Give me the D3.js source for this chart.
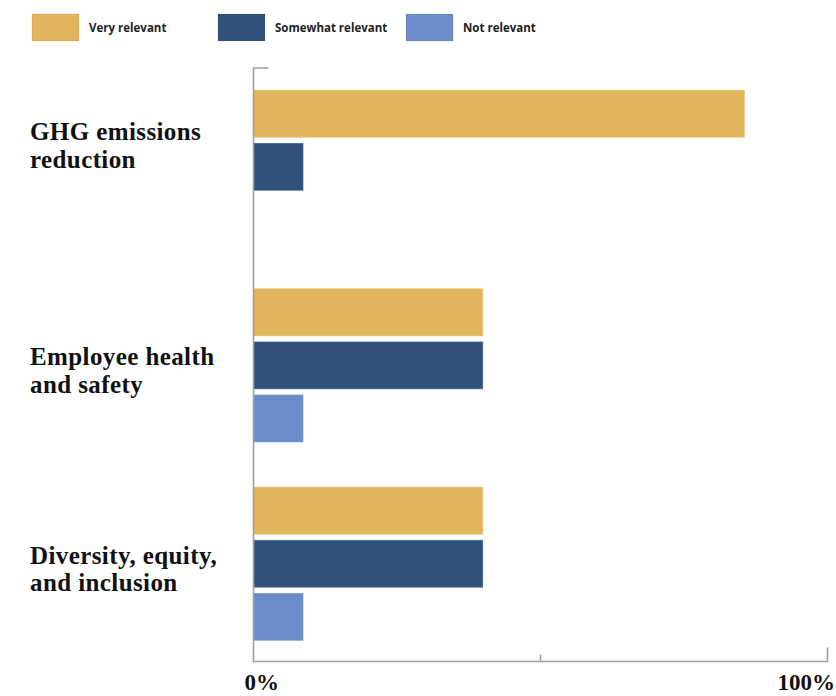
<!DOCTYPE html>
<html>
<head>
<meta charset="utf-8">
<script src="https://cdn.jsdelivr.net/npm/d3@7"></script>
<style>
  html, body { margin: 0; padding: 0; background: #fff; }
  svg { display: block; }
</style>
</head>
<body>
<svg id="chart" width="836" height="696"></svg>
<script>
// Topics and their label lines
const categories = ["GHG emissions reduction", "Employee health and safety", "Diversity, equity, and inclusion"];
const categoryLines = [
  ["GHG emissions", "reduction"],
  ["Employee health", "and safety"],
  ["Diversity, equity,", "and inclusion"]
];
const seriesNames = ["Very relevant", "Somewhat relevant", "Not relevant"];
const seriesColors = ["#E1B55B", "#31537B", "#6A8CC8"];

// Share of respondents (%) per topic
const veryRelevant = [85.6, 40, 40];
const somewhatRelevant = [8.7, 40, 40];
const notRelevant = [0, 8.7, 8.7];

const tickValues = [0, 50, 100];
const tickLabels = ["0%", "", "100%"];

const series = [veryRelevant, somewhatRelevant, notRelevant];

const svg = d3.select("#chart");

const x = d3.scaleLinear().domain([0, 100]).range([253.5, 827.5]);
const y0 = d3.scaleBand().domain(categories).range([68, 661])
  .paddingInner(0.224).paddingOuter(0.106).align(0.52);
const y1 = d3.scaleBand().domain(seriesNames).range([0, y0.bandwidth()]).paddingInner(0.1);

// Bars
const groups = svg.append("g").selectAll("g")
  .data(categories)
  .join("g")
  .attr("transform", d => `translate(0,${y0(d)})`);

groups.selectAll("rect")
  .data((c, ci) => seriesNames.map((s, si) => ({ s, si, v: series[si][ci] })))
  .join("rect")
  .filter(d => d.v > 0)
  .attr("x", x(0))
  .attr("y", d => y1(d.s))
  .attr("width", d => x(d.v) - x(0))
  .attr("height", y1.bandwidth())
  .attr("fill", d => seriesColors[d.si])
  .attr("stroke", "rgba(255,255,255,0.35)")
  .attr("stroke-width", 1);

// Axes
const axisColor = "#A0A0A0";
const axes = svg.append("g").attr("stroke", axisColor).attr("stroke-width", 1.6).attr("fill", "none");
const yTop = 68, yBase = 661.5;
axes.append("path").attr("d", `M${x(0) + 15},${yTop} H${x(0)} V${yBase} H${x(100)} V${yBase - 14}`);
axes.append("line")
  .attr("x1", x(50)).attr("x2", x(50))
  .attr("y1", yBase).attr("y2", yBase - 7);

// Tick labels
svg.append("g").selectAll("text")
  .data(tickValues.map((v, i) => ({ v, label: tickLabels[i], i })))
  .join("text")
  .filter(d => d.label !== "")
  .attr("x", d => d.v === 0 ? x(d.v) - 9 : x(d.v) - 50)
  .attr("y", 690)
  .attr("text-anchor", "start")
  .attr("font-family", "'Liberation Serif', serif")
  .attr("font-weight", "bold")
  .attr("font-size", 23)
  .attr("fill", "#111")
  .text(d => d.label);

// Category labels, centred on the drawn bars of each group
categories.forEach((c, ci) => {
  const drawn = seriesNames.filter((s, si) => series[si][ci] > 0);
  const top = y0(c) + y1(drawn[0]);
  const bottom = y0(c) + y1(drawn[drawn.length - 1]) + y1.bandwidth();
  const mid = (top + bottom) / 2 + 5;
  const lines = categoryLines[ci];
  const lh = 27.5;
  const t = svg.append("text")
    .attr("font-family", "'Liberation Serif', serif")
    .attr("font-weight", "bold")
    .attr("font-size", 25)
    .attr("letter-spacing", 0.4)
    .attr("fill", "#111");
  lines.forEach((ln, li) => {
    t.append("tspan")
      .attr("x", 30)
      .attr("y", mid + (li - (lines.length - 1) / 2) * lh + 8.5)
      .text(ln);
  });
});

// Legend
const legendX = [32, 218, 406];
const legend = svg.append("g").selectAll("g")
  .data(seriesNames)
  .join("g")
  .attr("transform", (d, i) => `translate(${legendX[i]},14)`);
legend.append("rect")
  .attr("width", 47).attr("height", 27)
  .attr("fill", (d, i) => seriesColors[i])
  .attr("stroke", "rgba(0,0,0,0.08)");
legend.append("text")
  .attr("x", 57).attr("y", 17.5)
  .attr("font-family", "'Open Sans', sans-serif")
  .attr("font-weight", "bold")
  .attr("font-size", 11.5)
  .attr("fill", "#222")
  .text(d => d);
</script>
</body>
</html>
